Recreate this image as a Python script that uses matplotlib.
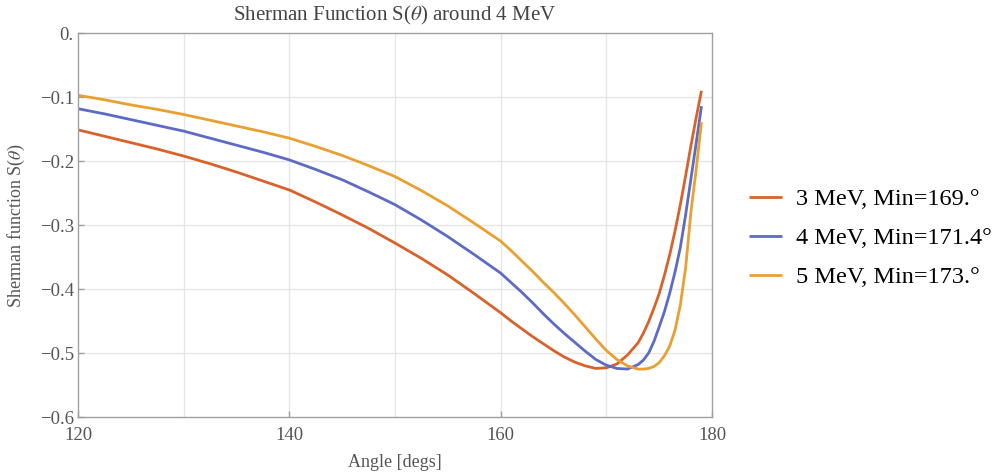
import matplotlib
matplotlib.use("Agg")
import matplotlib.pyplot as plt

plt.rcParams['font.family'] = ['Liberation Serif', 'DejaVu Serif']
plt.rcParams['mathtext.fontset'] = 'stix'

# angles in degrees, shared by all three curves
angle = [120, 122.5, 125, 127.5, 130, 132.5, 135, 137.5, 140, 142.5, 145, 147.5,
         150, 152.5, 155, 157.5, 160, 161, 162, 163, 164, 165, 166, 167, 168, 169,
         170, 171, 172, 173, 173.5, 174, 174.5, 175, 175.5, 176, 176.5, 177, 177.5,
         178, 178.5, 179]

s_3mev = [-0.151, -0.161, -0.171, -0.181, -0.192, -0.204, -0.217, -0.231, -0.245,
          -0.264, -0.284, -0.305, -0.328, -0.352, -0.378, -0.407, -0.437, -0.450,
          -0.462, -0.474, -0.485, -0.496, -0.506, -0.514, -0.520, -0.524, -0.523,
          -0.517, -0.503, -0.484, -0.469, -0.451, -0.430, -0.407, -0.378, -0.346,
          -0.309, -0.268, -0.223, -0.176, -0.132, -0.090]
s_4mev = [-0.118, -0.126, -0.135, -0.144, -0.153, -0.164, -0.175, -0.186, -0.198,
          -0.213, -0.229, -0.248, -0.268, -0.292, -0.318, -0.346, -0.375, -0.390,
          -0.405, -0.421, -0.438, -0.454, -0.469, -0.483, -0.497, -0.510, -0.519,
          -0.524, -0.525, -0.518, -0.511, -0.500, -0.482, -0.459, -0.435, -0.406,
          -0.373, -0.335, -0.284, -0.228, -0.172, -0.114]
s_5mev = [-0.097, -0.104, -0.112, -0.119, -0.127, -0.136, -0.145, -0.154, -0.164,
          -0.177, -0.191, -0.207, -0.224, -0.246, -0.270, -0.297, -0.325, -0.340,
          -0.356, -0.372, -0.389, -0.405, -0.422, -0.440, -0.459, -0.478, -0.496,
          -0.510, -0.520, -0.525, -0.525, -0.524, -0.521, -0.515, -0.504, -0.489,
          -0.464, -0.425, -0.367, -0.280, -0.213, -0.139]

labels = ['3 MeV, Min=169.°', '4 MeV, Min=171.4°', '5 MeV, Min=173.°']
colors = ['#D9622B', '#5C6BC6', '#E9A031']

x_ticks = [120, 140, 160, 180]
x_tick_labels = ['120', '140', '160', '180']
y_ticks = [0, -0.1, -0.2, -0.3, -0.4, -0.5, -0.6]
y_tick_labels = ['0.', '\u22120.1', '\u22120.2', '\u22120.3', '\u22120.4', '\u22120.5', '\u22120.6']

fig = plt.figure(figsize=(9.95, 4.75), dpi=100)
ax = fig.add_axes([0.0784, 0.122, 0.6372, 0.808])

for y, lab, c in zip([s_3mev, s_4mev, s_5mev], labels, colors):
    ax.plot(angle, y, color=c, lw=2.0, label=lab, solid_capstyle='butt',
            solid_joinstyle='round')

ax.set_xlim(120, 180)
ax.set_ylim(-0.6, 0)
ax.set_xticks(x_ticks)
ax.set_xticklabels(x_tick_labels)
ax.set_yticks(y_ticks)
ax.set_yticklabels(y_tick_labels)

for g in [130, 140, 150, 160, 170]:
    ax.axvline(g, color='#e6e6e6', lw=1.0, zorder=0)
for g in [-0.1, -0.2, -0.3, -0.4, -0.5]:
    ax.axhline(g, color='#e6e6e6', lw=1.0, zorder=0)

for sp in ax.spines.values():
    sp.set_color('#a0a0a0')
    sp.set_linewidth(1.0)
ax.tick_params(direction='in', length=4, width=1, color='#a0a0a0',
               labelcolor='#555555', labelsize=13.5)
ax.tick_params(axis='x', pad=7)
ax.tick_params(axis='y', pad=3)

ax.set_title('Sherman Function S($\\theta$) around 4 MeV', fontsize=15,
             color='#444444', pad=9)
ax.set_xlabel('Angle [degs]', fontsize=13, color='#555555')
ax.set_ylabel('Sherman function S($\\theta$)', fontsize=13, color='#555555')
ax.xaxis.set_label_coords(0.5, -0.097)
ax.yaxis.set_label_coords(-0.08, 0.5)

ax.legend(loc='center left', bbox_to_anchor=(0.731, 0.498), bbox_transform=fig.transFigure,
          frameon=False, fontsize=17.5, handlelength=1.33, handletextpad=0.6,
          labelspacing=0.7)

fig.savefig('out.png', dpi=100)
plt.close(fig)
